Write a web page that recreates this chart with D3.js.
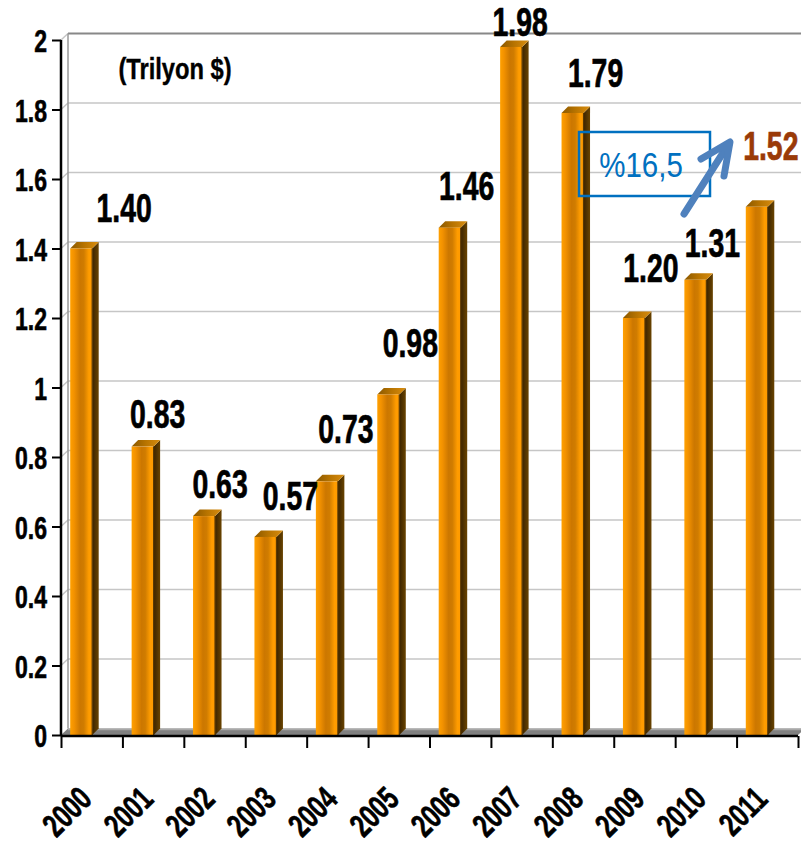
<!DOCTYPE html>
<html>
<head>
<meta charset="utf-8">
<script src="https://cdn.jsdelivr.net/npm/d3@7"></script>
<style>
  html, body { margin: 0; padding: 0; background: #fff; }
  svg { display: block; }
  text { font-family: "Liberation Sans", Arial, sans-serif; }
</style>
</head>
<body>
<svg id="chart" width="801" height="846"></svg>
<script>
// ---- data ----
const years = ["2000","2001","2002","2003","2004","2005","2006","2007","2008","2009","2010","2011"];
const values = [1.40, 0.83, 0.63, 0.57, 0.73, 0.98, 1.46, 1.98, 1.79, 1.20, 1.31, 1.52];
const yTicks = [0, 0.2, 0.4, 0.6, 0.8, 1, 1.2, 1.4, 1.6, 1.8, 2];
const unitLabel = "(Trilyon $)";
const changeLabel = "%16,5";

// ---- layout ----
const svg = d3.select("#chart");
const x0 = 61, x1 = 798, yBase = 735, yTop = 40;
const wallDx = 7, wallDy = -6.5;
const barDx = 6.5, barDy = -6.5;

const y = d3.scaleLinear().domain([0, 2]).range([yBase, yTop]);
const x = d3.scaleBand().domain(years).range([x0, x1]).paddingInner(0).paddingOuter(0);
const bw = x.bandwidth();
const barOff = 9.2, barW = 22;

// label nudges (manual placement as in original)
const labelNudge = [[43,-27],[15,-19],[16,-18],[25,-27],[19,-38],[22,-37],[17,-28],[9,-11],[23,-26],[17,-36],[17,-23],[14,-47]];

// gradients
const defs = svg.append("defs");
const gf = defs.append("linearGradient").attr("id","front").attr("x1","0").attr("x2","1").attr("y1","0").attr("y2","0");
[[0,"#FFA000"],[0.18,"#F29100"],[0.45,"#CC7700"],[0.62,"#D07C00"],[0.85,"#FF9C00"],[1,"#FF9A00"]].forEach(s=>gf.append("stop").attr("offset",s[0]).attr("stop-color",s[1]));
const gs = defs.append("linearGradient").attr("id","side").attr("x1","0").attr("x2","1").attr("y1","0").attr("y2","0");
[[0,"#3a2300"],[1,"#6a4400"]].forEach(s=>gs.append("stop").attr("offset",s[0]).attr("stop-color",s[1]));
const gt = defs.append("linearGradient").attr("id","top").attr("x1","0").attr("x2","1").attr("y1","0").attr("y2","0");
[[0,"#8a5800"],[0.5,"#b87400"],[1,"#d88d10"]].forEach(s=>gt.append("stop").attr("offset",s[0]).attr("stop-color",s[1]));

// ---- back wall gridlines ----
const grid = svg.append("g");
yTicks.filter(v => v > 0).forEach(v => {
  const yy = y(v);
  const col = v === 2 ? "#888" : "#c6c6c6";
  grid.append("line").attr("x1", x0).attr("y1", yy).attr("x2", x0 + wallDx).attr("y2", yy + wallDy)
    .attr("stroke", "#c6c6c6").attr("stroke-width", 1.5);
  grid.append("line").attr("x1", x0 + wallDx).attr("y1", yy + wallDy).attr("x2", 801).attr("y2", yy + wallDy)
    .attr("stroke", col).attr("stroke-width", v === 2 ? 2 : 1.6);
});
// wall left edge
grid.append("line").attr("x1", x0 + wallDx).attr("y1", y(2) + wallDy).attr("x2", x0 + wallDx).attr("y2", yBase + wallDy)
  .attr("stroke", "#999").attr("stroke-width", 1.5);

// floor
svg.append("polygon")
  .attr("points", [[x0, yBase],[x0 + wallDx, yBase + wallDy],[x1 + wallDx, yBase + wallDy],[x1, yBase]].map(p=>p.join(",")).join(" "))
  .attr("fill", "#808080");
svg.append("line").attr("x1", x0 + wallDx).attr("x2", 801).attr("y1", yBase + wallDy + 1).attr("y2", yBase + wallDy + 1)
  .attr("stroke", "#a8a8a8").attr("stroke-width", 1.5);

// ---- bars ----
const bars = svg.append("g").selectAll("g").data(years.map((yr,i)=>({yr, v: values[i], i}))).join("g");
bars.each(function(d){
  const g = d3.select(this);
  const l = x(d.yr) + barOff, r = l + barW, t = y(d.v), b = y(0);
  g.append("polygon").attr("points", [[r,t],[r+barDx,t+barDy],[r+barDx,b+barDy],[r,b]].map(p=>p.join(",")).join(" "))
    .attr("fill", "url(#side)");
  g.append("polygon").attr("points", [[l,t],[l+barDx,t+barDy],[r+barDx,t+barDy],[r,t]].map(p=>p.join(",")).join(" "))
    .attr("fill", "url(#top)");
  g.append("rect").attr("x", l).attr("y", t).attr("width", barW).attr("height", b - t).attr("fill", "url(#front)");
  g.append("line").attr("x1", r).attr("x2", r).attr("y1", t).attr("y2", b).attr("stroke", "#5a3800").attr("stroke-width", 1.2);
});

// ---- axes ----
const yAxis = svg.append("g").attr("transform", `translate(${x0},0)`)
  .call(d3.axisLeft(y).tickValues(yTicks).tickSize(9).tickFormat(d3.format("~g")));
yAxis.select(".domain").attr("stroke", "#000").attr("stroke-width", 2.5).attr("d", `M0,${yTop}V${yBase + 1}`);
yAxis.selectAll(".tick line").attr("stroke", "#000").attr("stroke-width", 2);
yAxis.selectAll(".tick text")
  .attr("x", null).attr("dy", "0.36em")
  .attr("transform", "translate(-14,0) scale(0.72,1)")
  .attr("text-anchor", "end")
  .attr("font-size", 32).attr("font-weight", "bold").attr("fill", "#000")
  .attr("stroke", "#000").attr("stroke-width", 0.6)
  .style("font-family", '"Liberation Sans", Arial, sans-serif');

// x axis (ticks at band edges)
const edgeScale = d3.scaleLinear().domain([0, years.length]).range([x0, x1]);
const xAxis = svg.append("g").attr("transform", `translate(0,${yBase + 1})`)
  .call(d3.axisBottom(edgeScale).tickValues(d3.range(years.length + 1)).tickSize(12).tickFormat(""));
xAxis.select(".domain").attr("stroke", "#000").attr("stroke-width", 2.5).attr("d", `M${x0},0H${x1}`);
xAxis.selectAll(".tick line").attr("stroke", "#000").attr("stroke-width", 2);

// x labels
svg.append("g").selectAll("g").data(years).join("g")
  .attr("transform", d => `translate(${x(d) + bw / 2 + 2},801) rotate(-45)`)
  .append("text")
  .attr("transform", "scale(0.72,1)")
  .attr("text-anchor", "end")
  .attr("font-size", 33).attr("font-weight", "bold").attr("fill", "#000")
  .attr("stroke", "#000").attr("stroke-width", 0.6)
  .text(d => d);

// value labels
svg.append("g").selectAll("g").data(years.map((yr,i)=>({yr, v: values[i], i}))).join("g")
  .attr("transform", d => `translate(${x(d.yr) + barOff + barW / 2 + labelNudge[d.i][0]},${y(d.v) + labelNudge[d.i][1]})`)
  .append("text")
  .attr("transform", "scale(0.71,1)")
  .attr("text-anchor", "middle")
  .attr("font-size", 40).attr("font-weight", "bold")
  .attr("fill", d => d.i === years.length - 1 ? "#9a3a08" : "#000")
  .attr("stroke", d => d.i === years.length - 1 ? "#9a3a08" : "#000").attr("stroke-width", 0.7)
  .text(d => d3.format(".2f")(d.v));

// unit label
svg.append("g").attr("transform", "translate(175,79)")
  .append("text").attr("transform", "scale(0.79,1)").attr("text-anchor", "middle")
  .attr("font-size", 30).attr("font-weight", "bold").attr("fill", "#000")
  .attr("stroke", "#000").attr("stroke-width", 0.4).text(unitLabel);

// ---- annotation box + arrow ----
svg.append("rect").attr("x", 579).attr("y", 132).attr("width", 131).attr("height", 64)
  .attr("fill", "none").attr("stroke", "#0070C0").attr("stroke-width", 2.5);
svg.append("g").attr("transform", "translate(641,177)")
  .append("text").attr("transform", "scale(0.82,1)").attr("text-anchor", "middle")
  .attr("font-size", 36).attr("fill", "#0070C0").text(changeLabel);
const arrow = svg.append("g").attr("stroke", "#4F81BD").attr("stroke-width", 7).attr("stroke-linecap", "round").attr("fill", "none");
arrow.append("line").attr("x1", 684).attr("y1", 214).attr("x2", 728).attr("y2", 145);
arrow.append("polyline").attr("points", "701,159 730,142 724,176").attr("stroke-linejoin", "round");
</script>
</body>
</html>
